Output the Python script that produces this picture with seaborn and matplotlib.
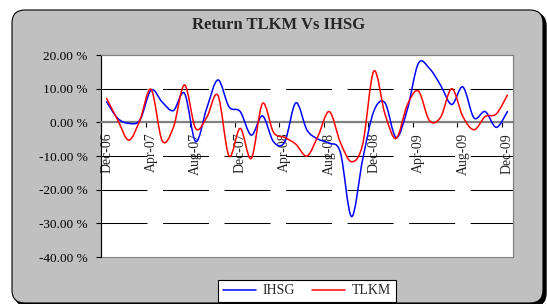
import numpy as np
import matplotlib
matplotlib.use("Agg")
import matplotlib.pyplot as plt
from matplotlib.path import Path
from matplotlib.patches import PathPatch, FancyBboxPatch
from matplotlib.lines import Line2D
from matplotlib.transforms import IdentityTransform
import seaborn as sns

# ---- data (monthly returns, %, Dec-06 .. Dec-09) ----
tick_labels = ["Dec-06", "Apr-07", "Aug-07", "Dec-07", "Apr-08", "Aug-08",
               "Dec-08", "Apr-09", "Aug-09", "Dec-09"]
ihsg = [6.1, 1.2, -0.3, 0.7, 9.6, 6.0, 3.5, 8.6, -5.7, 4.2,
        12.6, 4.6, 3.2, -3.8, 1.9, -5.8, -5.8, 5.8, -2.3, -5.0,
        -6.2, -9.0, -28.0, -11.0, 3.3, 5.8, -4.5, 3.7, 17.5, 16.0,
        11.0, 5.3, 10.5, 1.3, 3.2, -1.5, 3.2]
tlkm = [7.1, 0.7, -5.3, 0.7, 9.8, -5.5, -1.5, 11.1, -1.8, 1.5,
        8.0, -10.0, -1.8, -10.7, 5.6, -3.0, -4.5, -6.5, -10.0, -4.0,
        3.2, -6.0, -11.7, -6.5, 15.2, 2.5, -4.8, 5.1, 9.3, 0.5,
        1.5, 10.0, 1.7, -2.2, 1.7, 2.5, 8.1]
series_names = ["IHSG", "TLKM"]
y_ticks = [20, 10, 0, -10, -20, -30, -40]

sns.set_style("white")
plt.rcParams['font.family'] = ['Liberation Serif', 'DejaVu Serif']
plt.rcParams['lines.scale_dashes'] = False
colors = sns.color_palette(["#0000FF", "#FF0000"])


def smooth_path(xs, ys):
    # excel-like smoothed line (bezier through every point)
    pts = np.column_stack([xs, ys]).astype(float)
    p = np.vstack([pts[0], pts, pts[-1]])
    verts = [pts[0]]
    codes = [Path.MOVETO]
    for k in range(len(pts) - 1):
        p0, p1, p2, p3 = p[k], p[k + 1], p[k + 2], p[k + 3]
        verts += [p1 + (p2 - p0) / 6, p2 - (p3 - p1) / 6, p2]
        codes += [Path.CURVE4] * 3
    return Path(verts, codes)


W, H = 547, 304
fig = plt.figure(figsize=(W / 100, H / 100), dpi=100)
fig.patch.set_facecolor("white")

# grey chart box with shadow
shadow = FancyBboxPatch((15, -2), 531, 293, boxstyle="round,pad=0,rounding_size=13",
                        transform=IdentityTransform(), facecolor="black",
                        edgecolor="black", zorder=0)
box = FancyBboxPatch((12, 1), 531, 293, boxstyle="round,pad=0,rounding_size=13",
                     transform=IdentityTransform(), facecolor="#C0C0C0",
                     edgecolor="black", linewidth=0.8, zorder=1)
fig.patches.extend([shadow, box])

ax = fig.add_axes([101 / W, 1 - 257 / H, 412 / W, 202 / H])
ax.set_zorder(2)
ax.set_facecolor("white")

x = np.arange(len(ihsg))
for vals, c in zip([ihsg, tlkm], colors):
    ax.add_patch(PathPatch(smooth_path(x, vals), fill=False, edgecolor=c,
                           linewidth=1.1, zorder=4, capstyle="round"))

ax.set_xlim(-0.5, len(ihsg) - 0.5)
ax.set_ylim(-40, 20)
ax.set_yticks(y_ticks)
ax.set_yticklabels([f"{v:.2f} %" for v in y_ticks], fontsize=9.5)
ax.tick_params(axis="y", direction="out", length=3.6, width=0.8, pad=6, left=True,
               colors="black")

# category axis at 0
major = np.arange(0, len(ihsg), 4) - 0.5
ax.set_xticks(major)
ax.set_xticklabels([""] * len(major))
ax.set_xticks(np.arange(0, len(ihsg), 4), minor=True)
ax.set_xticklabels(tick_labels, minor=True, fontsize=10)
ax.tick_params(axis="x", which="major", direction="out", length=3.6, width=0.8,
               bottom=True, color="black")
ax.tick_params(axis="x", which="minor", length=0, pad=7.5, labelrotation=90)
for t in ax.get_xticklabels(minor=True):
    t.set_verticalalignment("top")
    t.set_horizontalalignment("center")
ax.spines["bottom"].set_position(("data", 0))
ax.spines["bottom"].set_color("#808080")
ax.spines["bottom"].set_linewidth(1.6)
ax.spines["bottom"].set_zorder(3)
ax.spines["left"].set_color("black")
ax.spines["left"].set_linewidth(0.8)
for s in ["top", "right"]:
    ax.spines[s].set_color("#808080")
    ax.spines[s].set_linewidth(0.8)
ax.patch.set_edgecolor("#808080")
ax.patch.set_linewidth(0.8)

ax.yaxis.grid(True, color="black", linewidth=0.75, linestyle=(0, (33.1, 11.2)))
gl = ax.yaxis.get_gridlines()
gl[0].set_visible(False)
gl[-1].set_visible(False)
ax.set_axisbelow(True)

fig.text(0.51, 0.918, "Return TLKM Vs IHSG", ha="center", va="center",
         fontsize=12, fontweight="bold", zorder=5)

handles = [Line2D([], [], color=c, linewidth=1.1) for c in colors]
leg = fig.legend(handles, series_names, loc="center", bbox_to_anchor=(307 / W, 1 - 291 / H),
                 ncol=2, fontsize=10, frameon=True, fancybox=False, shadow=False,
                 handlelength=2.4, columnspacing=1.2, handletextpad=0.5,
                 borderpad=0.3, framealpha=1)
leg.get_frame().set_edgecolor("black")
leg.get_frame().set_linewidth(0.8)
leg.set_zorder(6)

fig.savefig("out.png", dpi=100)
